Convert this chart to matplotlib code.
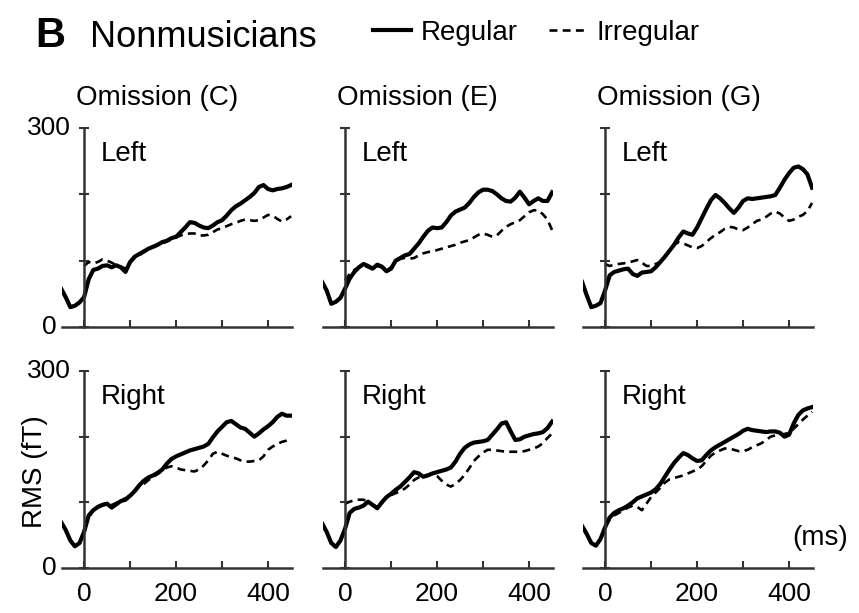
import numpy as np
import matplotlib
matplotlib.use('Agg')
import matplotlib.pyplot as plt

plt.rcParams['font.family'] = ['Liberation Sans', 'DejaVu Sans']

# tiempo (ms)
t_reg = np.arange(-50, 451, 10)
t_irr = np.arange(0, 451, 10)

# datos (fT)
reg_c_left = [58, 45, 30, 32, 37,
              45, 72, 86, 88, 92, 93, 90, 93, 90, 83,
              98, 106, 110, 114, 118, 121, 124, 128, 130, 134,
              136, 143, 150, 158, 157, 153, 150, 149, 153, 158,
              161, 168, 176, 182, 186, 191, 196, 202, 211, 214,
              208, 206, 208, 209, 211, 214]
irr_c_left = [92, 98, 96, 98, 102, 100, 97, 93, 91, 88,
              97, 104, 108, 113, 117, 120, 123, 126, 129, 132,
              135, 138, 140, 141, 141, 138, 138, 139, 143, 147,
              149, 152, 155, 157, 160, 162, 161, 160, 161, 165,
              169, 168, 163, 159, 162, 167]

reg_e_left = [68, 55, 35, 38, 44,
              58, 73, 83, 90, 95, 92, 88, 94, 91, 84,
              88, 100, 104, 108, 110, 118, 126, 136, 145, 150,
              149, 150, 158, 168, 174, 177, 180, 187, 196, 203,
              207, 207, 205, 200, 194, 190, 189, 195, 204, 195,
              185, 190, 194, 190, 190, 203]
irr_e_left = [70, 80, 86, 90, 93, 90, 87, 92, 90, 85,
              90, 98, 103, 104, 103, 104, 108, 111, 113, 114,
              116, 118, 120, 122, 124, 127, 129, 131, 135, 139,
              141, 139, 136, 138, 145, 151, 155, 158, 161, 167,
              173, 176, 176, 170, 162, 146]

reg_g_left = [68, 48, 30, 32, 36,
              55, 78, 83, 85, 87, 88, 80, 77, 82, 83,
              84, 90, 98, 106, 115, 124, 135, 144, 141, 139,
              150, 164, 178, 191, 199, 194, 187, 179, 172, 180,
              190, 194, 193, 194, 195, 196, 197, 199, 210, 222,
              232, 240, 242, 238, 230, 210]
irr_g_left = [95, 92, 94, 95, 96, 97, 99, 101, 97, 92,
              92, 95, 98, 106, 116, 124, 128, 126, 123, 120,
              119, 122, 128, 134, 139, 143, 148, 151, 150, 147,
              146, 150, 155, 160, 162, 166, 171, 174, 171, 165,
              160, 162, 166, 169, 175, 187]

reg_c_right = [70, 58, 42, 33, 38,
               55, 80, 88, 93, 96, 98, 92, 97, 102, 104,
               110, 117, 126, 133, 138, 141, 145, 150, 159, 166,
               170, 173, 176, 179, 181, 183, 185, 189, 199, 208,
               215, 222, 224, 219, 214, 212, 206, 200, 205, 211,
               216, 222, 230, 235, 232, 232]
irr_c_right = [62, 76, 88, 94, 97, 99, 96, 99, 104, 106,
               111, 118, 124, 128, 134, 139, 143, 148, 153, 155,
               153, 150, 149, 148, 147, 150, 156, 164, 174, 177,
               174, 171, 169, 167, 164, 162, 162, 163, 164, 170,
               180, 185, 189, 192, 194, 197]

reg_e_right = [68, 55, 38, 32, 42,
               60, 84, 90, 92, 95, 101, 96, 91, 100, 108,
               113, 119, 124, 131, 138, 146, 144, 139, 141, 144,
               146, 148, 150, 153, 162, 174, 183, 188, 191, 192,
               193, 195, 203, 211, 220, 222, 208, 195, 196, 200,
               202, 204, 205, 207, 213, 223]
irr_e_right = [98, 101, 103, 104, 104, 101, 96, 93, 100, 107,
               111, 114, 117, 121, 127, 134, 138, 140, 142, 144,
               140, 133, 127, 124, 128, 134, 142, 152, 163, 170,
               176, 180, 180, 179, 178, 177, 177, 177, 177, 178,
               180, 182, 185, 190, 198, 205]

reg_g_right = [64, 52, 38, 34, 44,
               62, 77, 84, 88, 91, 95, 100, 106, 109, 112,
               115, 120, 128, 139, 150, 160, 168, 175, 172, 167,
               163, 164, 172, 179, 184, 188, 192, 196, 200, 204,
               209, 212, 210, 209, 208, 207, 208, 208, 206, 200,
               203, 220, 233, 240, 243, 245]
irr_g_right = [65, 74, 80, 84, 88, 92, 95, 93, 88, 98,
               108, 115, 122, 130, 135, 137, 139, 141, 144, 147,
               150, 155, 163, 171, 176, 179, 182, 182, 180, 178,
               178, 180, 184, 187, 190, 195, 200, 202, 203, 204,
               206, 212, 219, 226, 232, 238]

titulos = ['Omission (C)', 'Omission (E)', 'Omission (G)']
lados = ['Left', 'Right']
regular = [[reg_c_left, reg_e_left, reg_g_left],
           [reg_c_right, reg_e_right, reg_g_right]]
irregular = [[irr_c_left, irr_e_left, irr_g_left],
             [irr_c_right, irr_e_right, irr_g_right]]
x_ticks = [0, 100, 200, 300, 400]
x_labels = ['0', '', '200', '', '400']

W, H = 859, 613
fig = plt.figure(figsize=(W / 100, H / 100), dpi=100)

izq = [62, 323, 583]
filas = [(327, 199), (568, 197)]  # (abajo px, alto px)
color_eje = '#333333'

for i in range(2):
    for j in range(3):
        abajo, alto = filas[i]
        ax = fig.add_axes([izq[j] / W, 1 - abajo / H, 230 / W, alto / H])
        l1, = ax.plot(t_reg, regular[i][j], color='black', lw=3.0,
                      solid_joinstyle='round', label='Regular')
        l2, = ax.plot(t_irr, irregular[i][j], color='black', lw=1.9,
                      dashes=(3, 2), label='Irregular')
        ax.set_xlim(-48, 452)
        ax.set_ylim(0, 300)

        # ejes cruzando en (0, 0)
        for s in ['top', 'right']:
            ax.spines[s].set_visible(False)
        ax.spines['left'].set_position(('data', 0))
        ax.spines['left'].set_color(color_eje)
        ax.spines['left'].set_linewidth(1.8)
        ax.spines['bottom'].set_color(color_eje)
        ax.spines['bottom'].set_linewidth(1.8)
        ax.patch.set_visible(False)

        ax.set_yticks([0, 100, 200, 300])
        ax.set_yticklabels([])
        ax.tick_params(axis='y', direction='inout', length=7, width=1.5,
                       color=color_eje)
        ax.set_xticks(x_ticks)
        ax.tick_params(axis='x', direction='in', length=5, width=1.5,
                       color=color_eje, labelsize=19, pad=10)
        if i == 1:
            ax.set_xticklabels(x_labels)
        else:
            ax.set_xticklabels([])

        if j == 0:
            for v in [0, 300]:
                ax.text(-0.055, v, str(v), transform=ax.get_yaxis_transform(),
                        ha='center', va='center', fontsize=19)

        ax.text(0.17, 0.87, lados[i], transform=ax.transAxes,
                ha='left', va='center', fontsize=20)
        if i == 0:
            ax.text(0.06, 1.15, titulos[j], transform=ax.transAxes,
                    ha='left', va='center', fontsize=20)
        if i == 1 and j == 2:
            ax.text(1.15, 0.15, '(ms)', transform=ax.transAxes,
                    ha='right', va='center', fontsize=20)

fig.text(35 / W, 1 - 472 / H, 'RMS (fT)', rotation=90,
         ha='center', va='center', fontsize=20)
fig.text(35 / W, 1 - 47 / H, 'B', fontsize=30, weight='bold',
         ha='left', va='baseline')
fig.text(90 / W, 1 - 47 / H, 'Nonmusicians', fontsize=26,
         ha='left', va='baseline')

fig.legend(handles=[l1, l2], loc='center left',
           bbox_to_anchor=(373 / W, 1 - 33 / H), ncol=2, frameon=False,
           fontsize=20, handlelength=1.35, handletextpad=0.36,
           columnspacing=1.15, borderpad=0, borderaxespad=0)

fig.savefig('out.png', dpi=100)
